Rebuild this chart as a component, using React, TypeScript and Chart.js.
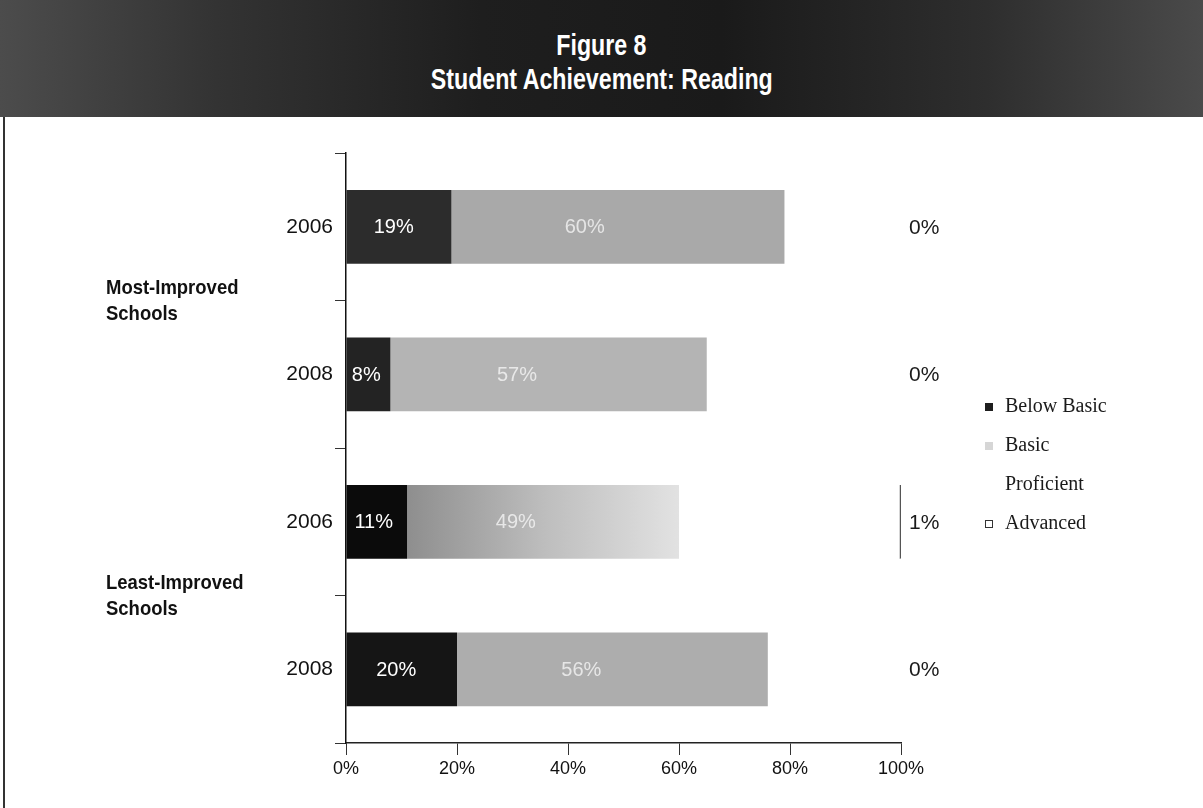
import React, { useEffect, useRef } from "react";
import { Chart, registerables } from "chart.js";

Chart.register(...registerables);

// Rows, top to bottom
const years = ["2006", "2008", "2006", "2008"];
const groups = ["Most-Improved\nSchools", "Least-Improved\nSchools"];

// Percent of students at each reading level
const belowBasic = [19, 8, 11, 20];
const basic = [60, 57, 49, 56];
const proficient = [21, 35, 39, 24];
const advanced = [0, 0, 1, 0];

const levelNames = ["Below Basic", "Basic", "Proficient", "Advanced"];
const xTicks = [0, 20, 40, 60, 80, 100];

const belowFill = ["#2c2c2c", "#232323", "#0b0b0b", "#151515"];
const basicFill = ["#a9a9a9", "#b4b4b4", "#b8b8b8", "#adadad"];

const SANS = '"Liberation Sans", Arial, sans-serif';
const SERIF = '"Liberation Serif", "Times New Roman", serif';

// Percent labels: inside the first two segments, and the Advanced share past the 100% mark
const valueLabels = {
  id: "valueLabels",
  afterDatasetsDraw(chart: any) {
    const ctx = chart.ctx;
    const xs = chart.scales.x;
    ctx.save();
    ctx.textBaseline = "middle";
    [0, 1].forEach((di) => {
      const meta = chart.getDatasetMeta(di);
      meta.data.forEach((el: any, i: number) => {
        const v = chart.data.datasets[di].data[i];
        const start = Math.min(el.base, el.x);
        const w = Math.abs(el.x - el.base);
        const cx = start + w * (di === 0 ? 0.45 : 0.4);
        ctx.font = `20px ${SANS}`;
        ctx.textAlign = "center";
        ctx.fillStyle = di === 0 ? "#ffffff" : "rgba(250,250,250,0.75)";
        ctx.fillText(`${v}%`, cx, el.y + 1);
      });
    });
    const meta = chart.getDatasetMeta(3);
    meta.data.forEach((el: any, i: number) => {
      ctx.font = `21px ${SANS}`;
      ctx.textAlign = "left";
      ctx.fillStyle = "#1a1a1a";
      ctx.fillText(`${advanced[i]}%`, xs.getPixelForValue(100) + 8, el.y + 1);
    });
    ctx.restore();
  },
};

function ReadingChart() {
  const ref = useRef<HTMLCanvasElement | null>(null);

  useEffect(() => {
    if (!ref.current) return;
    const chart = new Chart(ref.current, {
      type: "bar",
      data: {
        labels: years,
        datasets: [
          {
            label: levelNames[0],
            data: belowBasic,
            backgroundColor: belowFill,
            borderWidth: 0,
          },
          {
            label: levelNames[1],
            data: basic,
            backgroundColor: (c: any) => {
              const i = c.dataIndex;
              const xs = c.chart.scales?.x;
              if (i !== 2 || !xs) return basicFill[i] ?? "#b0b0b0";
              const x0 = xs.getPixelForValue(belowBasic[i]);
              const x1 = xs.getPixelForValue(belowBasic[i] + basic[i]);
              const g = c.chart.ctx.createLinearGradient(x0, 0, x1, 0);
              g.addColorStop(0, "#8e8e8e");
              g.addColorStop(0.5, "#bdbdbd");
              g.addColorStop(1, "#e2e2e2");
              return g;
            },
            borderWidth: 0,
          },
          {
            label: levelNames[2],
            data: proficient,
            backgroundColor: "#ffffff",
            borderWidth: 0,
          },
          {
            label: levelNames[3],
            data: advanced,
            backgroundColor: "#ffffff",
            borderColor: "#555555",
            borderSkipped: false,
            borderWidth: (c: any) =>
              advanced[c.dataIndex] > 0 ? { top: 0, bottom: 0, left: 0, right: 1.5 } : 0,
          },
        ],
      },
      options: {
        indexAxis: "y",
        animation: false,
        responsive: false,
        maintainAspectRatio: false,
        layout: { padding: { top: 36, right: 302, bottom: 20, left: 0 } },
        datasets: { bar: { barPercentage: 0.5, categoryPercentage: 1 } },
        plugins: {
          legend: { display: false },
          tooltip: { enabled: false },
          title: { display: false },
        },
        scales: {
          x: {
            stacked: true,
            min: 0,
            max: 100,
            afterBuildTicks: (s: any) => {
              s.ticks = xTicks.map((v) => ({ value: v }));
            },
            afterFit: (s: any) => {
              s.height = 45;
            },
            ticks: {
              callback: (v: any) => `${v}%`,
              font: { family: SANS, size: 18 },
              color: "#111111",
              padding: 3,
              maxRotation: 0,
            },
            grid: {
              drawOnChartArea: false,
              drawTicks: true,
              tickLength: 12,
              color: "#333333",
              lineWidth: 1,
            },
            border: { display: true, color: "#222222", width: 1.5 },
          },
          y: {
            stacked: true,
            afterFit: (s: any) => {
              s.width = 346;
            },
            ticks: {
              font: { family: SANS, size: 21 },
              color: "#111111",
              padding: 2,
            },
            grid: {
              offset: true,
              drawOnChartArea: false,
              drawTicks: true,
              tickLength: 11,
              color: "#333333",
              lineWidth: 1,
            },
            border: { display: true, color: "#111111", width: 1.5 },
          },
        },
      },
      plugins: [valueLabels],
    } as any);
    return () => chart.destroy();
  }, []);

  return (
    <canvas
      ref={ref}
      width={1203}
      height={691}
      style={{ position: "absolute", left: 0, top: 117, width: 1203, height: 691 }}
    />
  );
}

const swatchStyle = (i: number): React.CSSProperties => {
  const base: React.CSSProperties = {
    display: "inline-block",
    width: 8,
    height: 8,
    marginRight: 12,
    boxSizing: "border-box",
    verticalAlign: "middle",
  };
  if (i === 0) return { ...base, background: "#1e1e1e" };
  if (i === 1) return { ...base, background: "#d6d6d6" };
  if (i === 2) return { ...base, background: "transparent" };
  return { ...base, background: "#ffffff", border: "1px solid #333" };
};

// Condensed look from the regular face, squeezed horizontally
const squeezed = (s: number, origin: string): React.CSSProperties => ({
  display: "inline-block",
  transform: `scaleX(${s})`,
  transformOrigin: origin,
  whiteSpace: "nowrap",
});

export default function App() {
  useEffect(() => {
    document.body.style.margin = "0";
  }, []);

  return (
    <div style={{ position: "relative", width: 1203, height: 808, background: "#ffffff", overflow: "hidden" }}>
      <div
        style={{
          position: "absolute",
          left: 0,
          top: 0,
          width: 1203,
          height: 117,
          background:
            "linear-gradient(90deg, #4c4c4c 0%, #333333 18%, #1e1e1e 40%, #1a1a1a 60%, #2e2e2e 82%, #4a4a4a 100%)",
          color: "#ffffff",
          fontFamily: SANS,
          fontWeight: 700,
          fontSize: 29,
          textAlign: "center",
          lineHeight: "34px",
          paddingTop: 28,
          boxSizing: "border-box",
        }}
      >
        <div>
          <span style={squeezed(0.8, "center")}>Figure 8</span>
        </div>
        <div>
          <span style={squeezed(0.8, "center")}>Student Achievement: Reading</span>
        </div>
      </div>
      <div style={{ position: "absolute", left: 3, top: 117, width: 2, height: 691, background: "#333333" }} />
      <ReadingChart />
      {groups.map((g, i) => (
        <div
          key={i}
          style={{
            position: "absolute",
            left: 106,
            top: i === 0 ? 274 : 569,
            fontFamily: SANS,
            fontWeight: 700,
            fontSize: 21,
            lineHeight: "26px",
            color: "#111111",
          }}
        >
          {g.split("\n").map((line) => (
            <div key={line}>
              <span style={squeezed(0.88, "left")}>{line}</span>
            </div>
          ))}
        </div>
      ))}
      <div style={{ position: "absolute", left: 985, top: 391, fontFamily: SERIF, fontSize: 20, color: "#1a1a1a" }}>
        {levelNames.map((n, i) => (
          <div key={n} style={{ height: 39, lineHeight: "28px", whiteSpace: "nowrap" }}>
            <span style={swatchStyle(i)} />
            {n}
          </div>
        ))}
      </div>
    </div>
  );
}
